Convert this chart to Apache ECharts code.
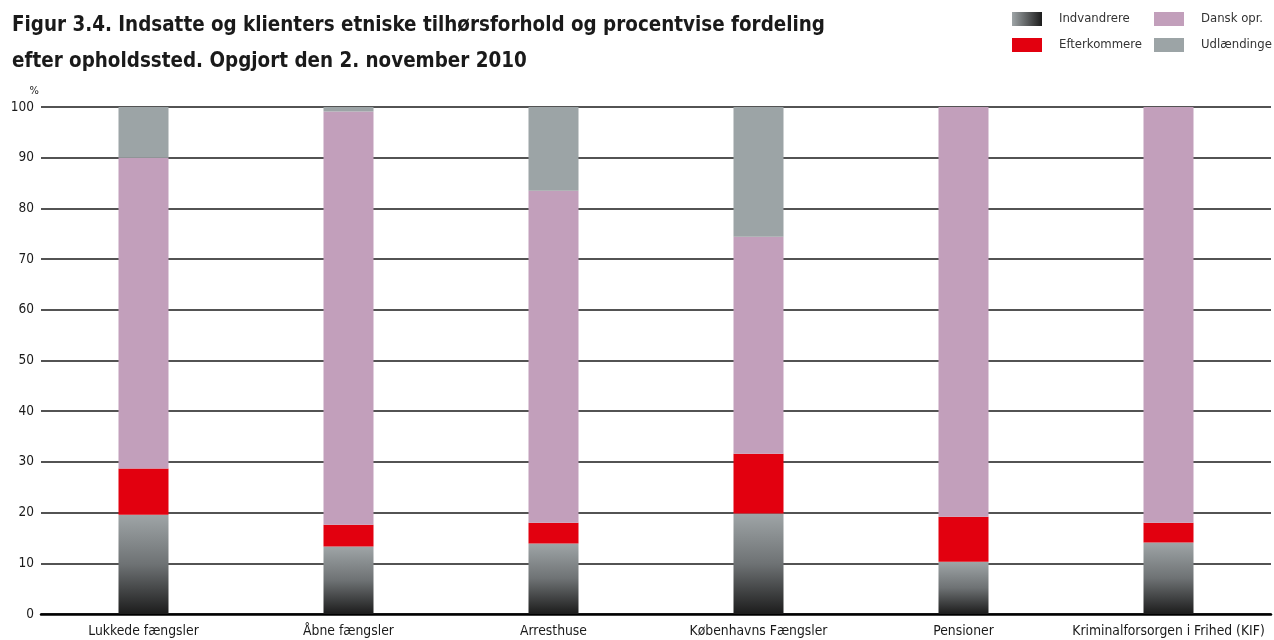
<!DOCTYPE html>
<html>
<head>
<meta charset="utf-8">
<script src="https://cdn.jsdelivr.net/npm/echarts@6/dist/echarts.min.js"></script>
<style>
html,body{margin:0;padding:0;background:#fff;}
#chart{width:1274px;height:640px;}
</style>
</head>
<body>
<div id="chart"></div>
<script>
const categories = ['Lukkede fængsler', 'Åbne fængsler', 'Arresthuse', 'Københavns Fængsler', 'Pensioner', 'Kriminalforsorgen i Frihed (KIF)'];
const indvandrere = [19.6, 13.3, 13.9, 19.8, 10.3, 14.1];
const efterkommere = [9.1, 4.3, 4.1, 11.8, 8.9, 3.9];
const danskOpr = [61.3, 81.5, 65.5, 42.8, 80.8, 82.0];
const udlaendinge = [10.0, 0.9, 16.5, 25.6, 0, 0];
const yTicks = [0, 10, 20, 30, 40, 50, 60, 70, 80, 90, 100];

const FONT = 'DejaVu Sans Condensed';
const chart = echarts.init(document.getElementById('chart'));

const vGrad = new echarts.graphic.LinearGradient(0, 0, 0, 1, [
  {offset: 0, color: '#9fa5a7'},
  {offset: 0.5, color: '#6e7274'},
  {offset: 1, color: '#1c1c1c'}
]);
const hGrad = new echarts.graphic.LinearGradient(0, 0, 1, 0, [
  {offset: 0, color: '#9fa5a7'},
  {offset: 1, color: '#1c1c1c'}
]);

function leg(name, left, top, icolor) {
  const d = {name: name};
  if (icolor) d.itemStyle = {color: icolor};
  return {
    data: [d], left: left, top: top, orient: 'horizontal',
    itemWidth: 30, itemHeight: 14, itemGap: 0, padding: 0,
    icon: 'rect', selectedMode: false,
    textStyle: {fontFamily: FONT, fontSize: 13, color: '#333', padding: [0, 0, 0, 12]}
  };
}

const barW = 50;
chart.setOption({
  animation: false,
  title: {
    text: 'Figur 3.4. Indsatte og klienters etniske tilhørsforhold og procentvise fordeling\nefter opholdssted. Opgjort den 2. november 2010',
    left: 12, top: 8, padding: 0,
    textStyle: {fontFamily: FONT, fontWeight: 'bold', fontSize: 20.4, lineHeight: 36, color: '#1a1a1a'}
  },
  legend: [
    leg('Indvandrere', 1012, 12, hGrad),
    leg('Dansk opr.', 1154, 12),
    leg('Efterkommere', 1012, 38),
    leg('Udlændinge', 1154, 38)
  ],
  grid: {left: 41, right: 3, top: 107, bottom: 26},
  xAxis: {
    type: 'category', data: categories,
    axisLine: {show: true, lineStyle: {color: '#000', width: 2.5}},
    axisTick: {show: false},
    axisLabel: {fontFamily: FONT, fontSize: 13.8, color: '#1a1a1a', margin: 10, interval: 0}
  },
  yAxis: {
    type: 'value', min: 0, max: 100, interval: 10,
    name: '%', nameLocation: 'end', nameGap: 10,
    nameTextStyle: {fontFamily: FONT, fontSize: 11, color: '#222', align: 'right', padding: [0, 2, 0, 0]},
    axisLine: {show: false}, axisTick: {show: false},
    axisLabel: {fontFamily: FONT, fontSize: 13.5, color: '#1a1a1a', margin: 7,
      formatter: v => yTicks.includes(v) ? String(v) : ''},
    splitLine: {show: true, lineStyle: {color: '#1a1a1a', width: 1.5}}
  },
  series: [
    {name: 'Indvandrere', type: 'bar', stack: 's', barWidth: barW, data: indvandrere, itemStyle: {color: vGrad}},
    {name: 'Efterkommere', type: 'bar', stack: 's', barWidth: barW, data: efterkommere, itemStyle: {color: '#e2000f'}},
    {name: 'Dansk opr.', type: 'bar', stack: 's', barWidth: barW, data: danskOpr, itemStyle: {color: '#c29fbb'}},
    {name: 'Udlændinge', type: 'bar', stack: 's', barWidth: barW, data: udlaendinge, itemStyle: {color: '#9ca4a6'}}
  ]
});
</script>
</body>
</html>
